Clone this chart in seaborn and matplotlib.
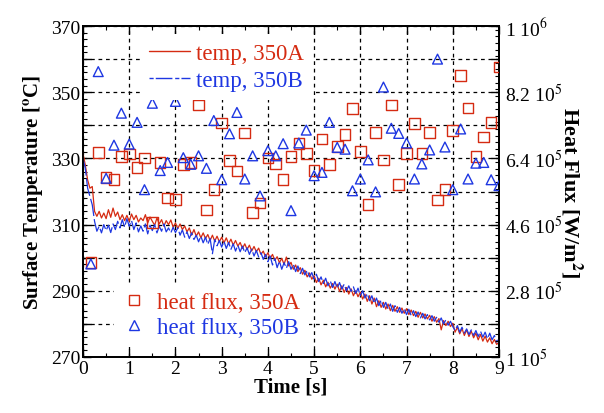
import matplotlib
matplotlib.use("Agg")
import matplotlib.pyplot as plt
from matplotlib.lines import Line2D
from matplotlib.ticker import MultipleLocator, FixedLocator, FixedFormatter
import numpy as np
import seaborn as sns

# ---------------- data ----------------
time_s = [0.0, 0.05, 0.1, 0.15, 0.2, 0.25, 0.3, 0.35, 0.4, 0.45, 0.5, 0.55, 0.6, 0.65, 0.7, 0.75, 0.8, 0.85, 0.9, 0.95,
          1.0, 1.05, 1.1, 1.15, 1.2, 1.25, 1.3, 1.35, 1.4, 1.45, 1.5, 1.55, 1.6, 1.65, 1.7, 1.75, 1.8, 1.85, 1.9, 1.95,
          2.0, 2.05, 2.1, 2.15, 2.2, 2.25, 2.3, 2.35, 2.4, 2.45, 2.5, 2.55, 2.6, 2.65, 2.7, 2.75, 2.8, 2.85, 2.9, 2.95,
          3.0, 3.05, 3.1, 3.15, 3.2, 3.25, 3.3, 3.35, 3.4, 3.45, 3.5, 3.55, 3.6, 3.65, 3.7, 3.75, 3.8, 3.85, 3.9, 3.95,
          4.0, 4.05, 4.1, 4.15, 4.2, 4.25, 4.3, 4.35, 4.4, 4.45, 4.5, 4.55, 4.6, 4.65, 4.7, 4.75, 4.8, 4.85, 4.9, 4.95,
          5.0, 5.05, 5.1, 5.15, 5.2, 5.25, 5.3, 5.35, 5.4, 5.45, 5.5, 5.55, 5.6, 5.65, 5.7, 5.75, 5.8, 5.85, 5.9, 5.95,
          6.0, 6.05, 6.1, 6.15, 6.2, 6.25, 6.3, 6.35, 6.4, 6.45, 6.5, 6.55, 6.6, 6.65, 6.7, 6.75, 6.8, 6.85, 6.9, 6.95,
          7.0, 7.05, 7.1, 7.15, 7.2, 7.25, 7.3, 7.35, 7.4, 7.45, 7.5, 7.55, 7.6, 7.65, 7.7, 7.75, 7.8, 7.85, 7.9, 7.95,
          8.0, 8.05, 8.1, 8.15, 8.2, 8.25, 8.3, 8.35, 8.4, 8.45, 8.5, 8.55, 8.6, 8.65, 8.7, 8.75, 8.8, 8.85, 8.9, 8.95, 9.0]

temp_350A = [331.5, 328.0, 323.5, 321.0, 321.5, 314.0, 312.5, 314.0, 312.0, 313.5, 311.8, 314.5, 312.2, 315.0, 312.5, 313.8, 311.5, 313.0, 311.2, 312.8,
             311.0, 313.2, 311.5, 312.8, 310.8, 312.0, 311.2, 313.0, 310.5, 312.3, 311.0, 309.8, 312.0, 310.2, 311.5, 309.5, 311.2, 310.0, 311.4, 309.2,
             310.5, 308.8, 310.2, 308.5, 309.6, 307.8, 309.0, 306.8, 308.5, 306.5, 307.8, 306.0, 307.5, 305.8, 307.0, 305.2, 306.8, 305.0, 306.5, 304.8,
             306.2, 304.5, 306.0, 304.2, 305.6, 303.8, 305.2, 303.5, 304.6, 302.8, 304.2, 302.5, 303.8, 302.0, 303.4, 301.8, 302.9, 301.0, 302.0, 300.2,
             301.5, 299.8, 301.0, 299.2, 300.3, 298.5, 299.8, 298.0, 300.2, 297.5, 298.6, 296.5, 297.8, 295.8, 297.0, 295.0, 296.2, 294.2, 295.4, 293.5,
             294.6, 292.5, 293.8, 291.8, 293.2, 291.2, 292.6, 290.8, 292.2, 290.5, 292.0, 289.8, 291.5, 289.5, 291.0, 289.0, 290.6, 288.5, 290.0, 288.2,
             289.6, 287.5, 289.0, 286.8, 288.5, 286.0, 287.8, 285.2, 287.0, 285.0, 286.5, 284.5, 286.0, 284.0, 285.6, 283.8, 285.2, 283.5, 284.8, 283.2,
             284.6, 282.8, 284.2, 282.5, 283.8, 282.0, 283.5, 281.8, 283.0, 281.5, 282.6, 280.8, 282.2, 280.5, 281.6, 278.2, 281.0, 279.5, 280.8, 279.2,
             280.2, 277.5, 279.0, 277.0, 278.6, 276.5, 278.2, 276.2, 277.8, 275.8, 277.2, 275.2, 276.8, 274.8, 276.3, 274.5, 275.8, 274.0, 275.3, 273.8, 274.5]

temp_350B = [330.0, 327.0, 321.0, 318.5, 316.0, 311.0, 308.0, 309.5, 307.5, 310.0, 308.2, 309.8, 307.6, 310.2, 308.5, 311.0, 309.0, 311.5, 309.2, 311.8,
             309.5, 311.2, 308.5, 310.5, 307.8, 309.6, 308.0, 310.2, 307.2, 309.8, 308.2, 310.0, 307.5, 309.5, 308.0, 310.2, 307.8, 309.0, 307.5, 309.2,
             307.6, 309.0, 306.8, 308.4, 306.2, 307.8, 305.8, 307.5, 305.5, 306.8, 304.8, 306.5, 304.5, 306.2, 304.0, 305.8, 301.2, 305.5, 303.6, 305.2,
             303.2, 305.0, 302.8, 304.6, 302.5, 304.2, 302.0, 303.8, 301.8, 303.5, 301.5, 303.0, 301.0, 302.6, 300.5, 302.2, 300.2, 301.5, 299.5, 301.0,
             298.8, 300.5, 297.8, 299.8, 297.0, 299.0, 296.5, 298.5, 296.8, 298.8, 296.5, 298.0, 295.8, 297.5, 295.2, 296.8, 294.8, 296.2, 294.2, 295.5,
             293.5, 295.0, 292.8, 294.2, 292.2, 293.8, 291.5, 293.0, 291.0, 292.8, 290.8, 292.5, 290.5, 292.0, 290.0, 291.5, 289.8, 291.2, 289.2, 290.8,
             288.5, 290.0, 287.8, 289.2, 287.0, 288.5, 286.2, 287.8, 285.5, 287.2, 285.0, 286.5, 284.5, 286.0, 283.8, 285.5, 283.5, 285.0, 283.2, 284.6,
             282.8, 284.4, 282.5, 284.0, 282.2, 283.6, 281.8, 283.2, 281.5, 282.8, 281.2, 282.5, 280.8, 282.0, 280.5, 281.8, 280.0, 281.2, 279.6, 280.8,
             279.2, 278.0, 279.5, 277.5, 279.0, 277.2, 278.5, 276.8, 278.2, 276.5, 278.0, 276.2, 277.8, 276.0, 277.5, 275.5, 277.2, 275.2, 276.5, 274.5, 275.5]

flux_time_s = [0.17, 0.33, 0.5, 0.67, 0.83, 1.0, 1.17, 1.33, 1.5, 1.67, 1.83, 2.0, 2.17, 2.33, 2.5, 2.67, 2.83, 3.0,
               3.17, 3.33, 3.5, 3.67, 3.83, 4.0, 4.17, 4.33, 4.5, 4.67, 4.83, 5.0, 5.17, 5.33, 5.5, 5.67, 5.83, 6.0,
               6.17, 6.33, 6.5, 6.67, 6.83, 7.0, 7.17, 7.33, 7.5, 7.67, 7.83, 8.0, 8.17, 8.33, 8.5, 8.67, 8.83, 9.0]

flux_350A = [3.57e5, 6.56e5, 5.88e5, 5.83e5, 6.45e5, 6.52e5, 6.16e5, 6.41e5, 4.66e5, 6.29e5,
             5.32e5, 5.28e5, 6.24e5, 6.29e5, 7.85e5, 5.00e5, 5.55e5, 7.36e5, 6.34e5, 6.06e5,
             7.09e5, 4.93e5, 5.19e5, 6.41e5, 6.25e5, 5.82e5, 6.45e5, 6.81e5, 6.53e5, 6.07e5,
             6.93e5, 6.23e5, 6.73e5, 7.05e5, 7.76e5, 6.59e5, 5.14e5, 7.11e5, 6.36e5, 7.85e5,
             5.69e5, 6.54e5, 7.35e5, 6.54e5, 7.11e5, 5.27e5, 5.55e5, 7.16e5, 8.65e5, 7.77e5,
             6.45e5, 6.98e5, 7.38e5, 8.88e5]

flux_350B = [3.53e5, 8.76e5, 5.86e5, 6.76e5, 7.63e5, 6.79e5, 7.38e5, 5.55e5, 7.90e5, 6.07e5,
             6.29e5, 7.95e5, 6.42e5, 6.24e5, 6.47e5, 6.13e5, 7.43e5, 5.82e5, 7.07e5, 7.65e5,
             5.84e5, 6.47e5, 5.38e5, 6.61e5, 6.47e5, 6.80e5, 4.98e5, 6.82e5, 7.17e5, 5.93e5,
             6.02e5, 7.38e5, 6.70e5, 6.65e5, 5.52e5, 5.84e5, 6.36e5, 5.49e5, 8.34e5, 7.22e5,
             7.08e5, 6.82e5, 5.84e5, 6.25e5, 6.63e5, 9.10e5, 6.71e5, 5.55e5, 7.20e5, 5.84e5,
             6.27e5, 6.29e5, 5.82e5, 5.66e5]

left_ticks = [270, 280, 290, 300, 310, 320, 330, 340, 350, 360, 370]
left_labels = ["270", "", "290", "", "310", "", "330", "", "350", "", "370"]
right_ticks = [1.0e5, 1.9e5, 2.8e5, 3.7e5, 4.6e5, 5.5e5, 6.4e5, 7.3e5, 8.2e5, 9.1e5, 1.0e6]
right_labels = ["1 10$^5$", "", "2.8 10$^5$", "", "4.6 10$^5$", "", "6.4 10$^5$", "", "8.2 10$^5$", "", "1 10$^6$"]

RED = "#d52b12"
BLUE = "#1e37e2"

# ---------------- style ----------------
sns.set_theme(style="white")
plt.rcParams["font.family"] = ["Liberation Serif", "DejaVu Serif"]
plt.rcParams["mathtext.fontset"] = "stix"
plt.rcParams["xtick.direction"] = "in"
plt.rcParams["ytick.direction"] = "in"
for k in ("text.color", "axes.labelcolor", "xtick.color", "ytick.color", "xtick.labelcolor", "ytick.labelcolor"):
    plt.rcParams[k] = "black"

fig = plt.figure(figsize=(6.04, 4.14), dpi=100)
ax = fig.add_axes([83 / 604, 1 - 358 / 414, 416 / 604, 331 / 414])
ax2 = ax.twinx()

sns.lineplot(x=time_s, y=temp_350A, ax=ax, color=RED, lw=0.9, estimator=None, sort=False, zorder=3)
sns.lineplot(x=time_s, y=temp_350B, ax=ax, color=BLUE, lw=0.9, estimator=None, sort=False,
             linestyle=(0, (14, 2.5)), zorder=3)

sns.scatterplot(x=flux_time_s, y=flux_350A, ax=ax2, marker="s", s=58, color=RED,
                facecolor="none", edgecolor=RED, linewidth=1.0, zorder=4)
sns.scatterplot(x=flux_time_s, y=flux_350B, ax=ax2, marker="^", s=50, color=BLUE,
                facecolor="none", edgecolor=BLUE, linewidth=1.0, zorder=4)

ax.set_xlim(0, 9)
ax.set_ylim(270, 370)
ax2.set_ylim(1e5, 1e6)

ax.xaxis.set_major_locator(MultipleLocator(1))
ax.xaxis.set_minor_locator(MultipleLocator(0.5))
ax.yaxis.set_major_locator(FixedLocator(left_ticks))
ax.yaxis.set_major_formatter(FixedFormatter(left_labels))
ax.yaxis.set_minor_locator(MultipleLocator(2))
ax2.yaxis.set_major_locator(FixedLocator(right_ticks))
ax2.yaxis.set_major_formatter(FixedFormatter(right_labels))
ax2.yaxis.set_minor_locator(MultipleLocator(0.18e5))

ax.tick_params(axis="both", which="major", length=6, width=1.0, color="black", labelcolor="black",
               labelsize=14, top=True, left=True, bottom=True, pad=2)
ax.tick_params(axis="both", which="minor", length=3, width=0.8, color="black", top=True, left=True, bottom=True)
ax.tick_params(axis="y", right=False, which="both")
ax2.tick_params(axis="y", which="major", length=6, width=1.0, color="black", labelcolor="black",
                labelsize=14, pad=4)
ax2.tick_params(axis="y", which="minor", length=3, width=0.8, color="black")

ax.grid(True, which="major", color="black", linestyle=(0, (3, 3)), linewidth=0.9)
for a in (ax, ax2):
    for sp in a.spines.values():
        sp.set_color("black")
        sp.set_linewidth(1.3)

ax.set_xlabel("Time [s]", fontsize=15, fontweight="bold", labelpad=0, color="black")
ax.set_ylabel(r"Surface Temperature [$^{\mathbf{o}}$C]", fontsize=15, fontweight="bold", labelpad=4, color="black")
ax2.set_ylabel(r"Heat Flux [W/m$^{\mathbf{2}}$]", fontsize=16, fontweight="bold", rotation=270,
               labelpad=16, color="black")
ax2.set_xlim(0, 9)

# legends
h_lines = [Line2D([], [], color=RED, lw=1.0),
           Line2D([], [], color=BLUE, lw=1.0, linestyle=(0, (3, 1.5, 12, 2)))]
leg1 = ax2.legend(h_lines, ["temp, 350A", "temp, 350B"], loc="upper left",
                  bbox_to_anchor=(0.137, 0.975), borderaxespad=0, fontsize=16.5,
                  frameon=True, facecolor="white", edgecolor="none", framealpha=1,
                  fancybox=False, handlelength=1.8, handletextpad=0.25, labelspacing=0.25,
                  borderpad=0.4)
for txt, c in zip(leg1.get_texts(), [RED, BLUE]):
    txt.set_color(c)
ax2.add_artist(leg1)

h_marks = [Line2D([], [], color=RED, marker="s", markersize=7.6, mfc="none", mec=RED, mew=1.0, linestyle="none"),
           Line2D([], [], color=BLUE, marker="^", markersize=7.2, mfc="none", mec=BLUE, mew=1.0, linestyle="none")]
leg2 = ax2.legend(h_marks, ["heat flux, 350A", "heat flux, 350B"], loc="lower left",
                  bbox_to_anchor=(0.074, 0.03), borderaxespad=0, fontsize=16.5,
                  frameon=True, facecolor="white", edgecolor="none", framealpha=1,
                  fancybox=False, handlelength=1.0, handletextpad=0.5, labelspacing=0.15,
                  borderpad=0.4)
for txt, c in zip(leg2.get_texts(), [RED, BLUE]):
    txt.set_color(c)

fig.savefig("out.png", dpi=100)
